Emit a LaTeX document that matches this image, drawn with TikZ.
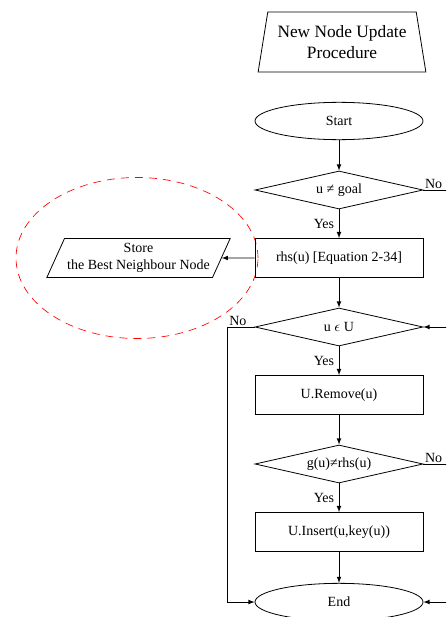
\documentclass[tikz,border=0pt]{standalone}
\usepackage{fontspec}
\setmainfont{Liberation Serif}
\usetikzlibrary{shapes.geometric}
\begin{document}
\begin{tikzpicture}[x=0.75pt, y=-0.75pt, >=latex, line width=0.6pt,
        every node/.style={font=\fontsize{10.5}{12.75}\selectfont},
        proc/.style={rectangle, draw, minimum width=126pt, minimum height=29.25pt},
        dec/.style={diamond, draw, shape aspect=4.5, inner sep=1pt, minimum width=126pt, minimum height=28.5pt},
        term/.style={ellipse, draw, minimum width=126pt, minimum height=28pt}]
        \useasboundingbox (0,0) rectangle (446,617);
        \clip (0,0) rectangle (446,617);

        \node[ellipse, draw=red, line width=0.5pt, dash pattern=on 6pt off 4.5pt, minimum width=181.5pt, minimum height=120.75pt] (hilite) at (137,258) {};

        \node[trapezium, draw, trapezium stretches=true, trapezium left angle=78, trapezium right angle=78, minimum width=126pt, minimum height=45pt, align=center, font=\fontsize{13}{15.75}\selectfont] (title) at (342,42) {New Node Update\\Procedure};
        \node[term] (start) at (339,121) {Start};
        \node[dec] (d1) at (339,190) {u ≠ goal};
        \node[proc] (rhs) at (339,258) {rhs(u) [Equation 2-34]};
        \node[trapezium, draw, trapezium stretches=true, trapezium left angle=63, trapezium right angle=117, inner sep=2pt, minimum width=137pt, minimum height=29.25pt, align=center] (store) at (138.5,258) {Store\\the Best Neighbour Node};
        \node[dec] (d2) at (339,327) {u $\epsilon$ U};
        \node[proc] (remove) at (339,395) {U.Remove(u)};
        \node[dec] (d3) at (339,464) {g(u)≠rhs(u)};
        \node[proc] (insert) at (339,532) {U.Insert(u,key(u))};
        \node[term] (end) at (339,602) {End};

        \draw[->] (start) -- (d1);
        \draw[->] (d1) -- node[left] {Yes} (rhs);
        \draw[->] (rhs.west) -- (store.east);
        \draw[->] (rhs) -- (d2);
        \draw[->] (d2) -- node[left] {Yes} (remove);
        \draw[->] (remove) -- (d3);
        \draw[->] (d3) -- node[left] {Yes} (insert);
        \draw[->] (insert) -- (end);
        \draw[->] (d1.east) node[above right, inner sep=1pt] {No} -- ++(40,0) |- (d2.east);
        \draw[->] (d2.west) -- ++(-27,0) node[above right, inner sep=1pt] {No} |- (end.west);
        \draw[->] (d3.east) node[above right, inner sep=1pt] {No} -- ++(40,0) |- (end.east);
    \end{tikzpicture}
\end{document}
